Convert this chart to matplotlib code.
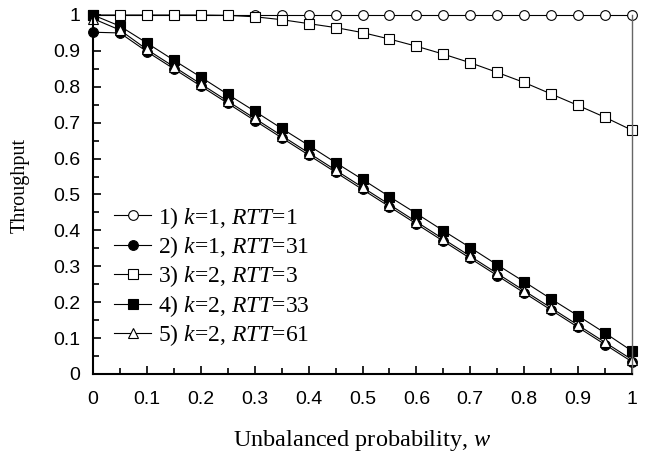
import numpy as np
import matplotlib
matplotlib.use("Agg")
import matplotlib.pyplot as plt
from matplotlib.ticker import MultipleLocator

plt.rcParams["font.family"] = "Liberation Sans"
plt.rcParams["mathtext.fontset"] = "custom"
plt.rcParams["mathtext.rm"] = "Liberation Serif"
plt.rcParams["mathtext.it"] = "Liberation Serif:italic"

w = [0.0, 0.05, 0.1, 0.15, 0.2, 0.25, 0.3, 0.35, 0.4, 0.45, 0.5,
     0.55, 0.6, 0.65, 0.7, 0.75, 0.8, 0.85, 0.9, 0.95, 1.0]

s1 = [1.0] * 21
s2 = [0.952, 0.950, 0.898, 0.850, 0.802, 0.754, 0.706, 0.658, 0.610, 0.562, 0.514,
      0.466, 0.418, 0.370, 0.322, 0.274, 0.226, 0.178, 0.130, 0.082, 0.034]
s3 = [1.0, 1.0, 1.0, 1.0, 1.0, 0.999, 0.995, 0.987, 0.976, 0.965, 0.951,
      0.933, 0.913, 0.891, 0.867, 0.840, 0.812, 0.780, 0.748, 0.715, 0.679]
s4 = [1.0, 0.969, 0.922, 0.874, 0.827, 0.779, 0.732, 0.684, 0.637, 0.589, 0.542,
      0.494, 0.447, 0.399, 0.352, 0.304, 0.257, 0.209, 0.162, 0.114, 0.064]
s5 = [0.99, 0.958, 0.904, 0.856, 0.808, 0.760, 0.712, 0.664, 0.616, 0.568, 0.520,
      0.472, 0.424, 0.376, 0.328, 0.280, 0.232, 0.184, 0.136, 0.088, 0.040]

labels = [
    "1) $k$=1, $RTT$=1",
    "2) $k$=1, $RTT$=31",
    "3) $k$=2, $RTT$=3",
    "4) $k$=2, $RTT$=33",
    "5) $k$=2, $RTT$=61",
]

fig = plt.figure(figsize=(6.62, 4.53), dpi=100)
ax = fig.add_axes([0.1405, 0.1744, 0.8142, 0.7925])

styles = [
    ("o", "white", 7),
    ("o", "black", 7),
    ("s", "white", 6.5),
    ("s", "black", 6.5),
    ("^", "white", 7),
]
for ys, lab, (m, fc, ms) in zip([s1, s2, s3, s4, s5], labels, styles):
    ax.plot(w, ys, color="black", lw=0.8, marker=m, markersize=ms,
            markerfacecolor=fc, markeredgecolor="black", markeredgewidth=0.8,
            label=lab, clip_on=False)

ax.set_xlim(0, 1)
ax.set_ylim(0, 1)
ax.xaxis.set_major_locator(MultipleLocator(0.1))
ax.xaxis.set_minor_locator(MultipleLocator(0.05))
ax.yaxis.set_major_locator(MultipleLocator(0.1))
ax.yaxis.set_minor_locator(MultipleLocator(0.05))
ax.xaxis.set_major_formatter(plt.FuncFormatter(lambda v, p: f"{v:g}"))
ax.yaxis.set_major_formatter(plt.FuncFormatter(lambda v, p: f"{v:g}"))
ax.tick_params(which="both", direction="in", width=1.2, top=False, right=False,
               labelsize=14)
ax.tick_params(which="major", length=6)
ax.tick_params(which="minor", length=4)
ax.tick_params(axis="x", which="major", pad=12)
ax.tick_params(axis="y", which="major", pad=9)

ax.spines["top"].set_visible(False)
ax.spines["right"].set_color("#666666")
ax.spines["right"].set_linewidth(1.0)
ax.spines["left"].set_linewidth(1.5)
ax.spines["bottom"].set_linewidth(1.5)

ax.set_xlabel("Unbalanced probability, $w$", family="Liberation Serif",
              fontsize=17.5, labelpad=15)
ax.set_ylabel("Throughput", family="Liberation Serif", fontsize=14.5)
ax.yaxis.set_label_coords(-0.117, 0.524)

leg = ax.legend(loc="lower left", bbox_to_anchor=(0.0, 0.012), frameon=False,
                prop={"family": "Liberation Serif", "size": 17},
                handlelength=1.55, handletextpad=0.3, labelspacing=0.15,
                borderaxespad=0.5)

fig.savefig("out.png", dpi=100)
